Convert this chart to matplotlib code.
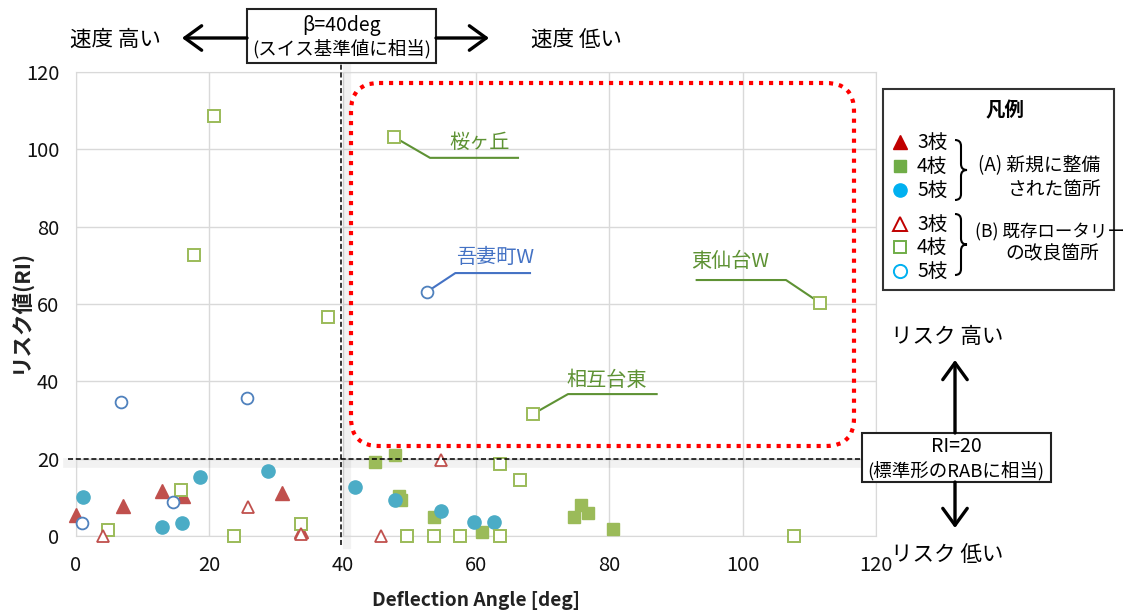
import matplotlib
matplotlib.use('Agg')
import matplotlib.pyplot as plt
from matplotlib.patches import FancyBboxPatch, Rectangle, PathPatch
from matplotlib.path import Path

plt.rcParams['font.family'] = ['Noto Sans CJK JP', 'DejaVu Sans']

# ---------------- data ----------------
# (A) newly built: 3-, 4-, 5-leg
tri_A_x = [0.0, 7.0, 12.9, 16.1, 30.9, 33.8]
tri_A_y = [5.5, 7.8, 11.6, 10.3, 11.0, 1.2]
sq_A_x = [44.8, 47.8, 48.5, 48.8, 53.7, 60.9, 74.7, 75.8, 76.8, 80.6]
sq_A_y = [19.1, 20.9, 10.4, 9.3, 4.8, 1.1, 4.8, 7.9, 6.0, 1.8]
ci_A_x = [1.0, 12.9, 15.9, 18.6, 28.8, 41.9, 47.8, 54.8, 59.7, 62.7]
ci_A_y = [10.0, 2.2, 3.3, 15.3, 16.7, 12.8, 9.4, 6.5, 3.5, 3.5]
# (B) improved existing rotaries: 3-, 4-, 5-leg
tri_B_x = [4.0, 25.8, 33.8, 45.8, 54.7]
tri_B_y = [0.0, 7.4, 0.4, 0.0, 19.6]
sq_B_x = [4.8, 15.8, 17.7, 20.7, 23.7, 33.7, 37.8, 47.7, 49.6, 53.7, 57.6,
          63.6, 63.6, 66.6, 68.5, 107.7, 111.6]
sq_B_y = [1.5, 11.8, 72.7, 108.6, 0.0, 3.2, 56.6, 103.2, 0.0, 0.0, 0.0,
          0.0, 18.5, 14.6, 31.5, 0.0, 60.3]
ci_B_x = [0.85, 6.7, 14.6, 25.6, 52.6]
ci_B_y = [3.3, 34.7, 8.9, 35.8, 63.1]

# labelled sites
site_names = ['桜ヶ丘', '吾妻町W', '東仙台W', '相互台東']
site_x = [47.7, 52.6, 111.6, 68.5]
site_y = [103.2, 63.1, 60.3, 31.5]

x_ticks = [0, 20, 40, 60, 80, 100, 120]
y_ticks = [0, 20, 40, 60, 80, 100, 120]
beta_threshold = 40
ri_threshold = 20

# ---------------- figure ----------------
W, H = 1123, 614
fig = plt.figure(figsize=(W / 100, H / 100), dpi=100)
ax = fig.add_axes([76 / W, (H - 536) / H, 800 / W, 464 / H])
ax.set_xlim(0, 120)
ax.set_ylim(0, 120)
ax.set_xticks(x_ticks)
ax.set_yticks(y_ticks)
ax.grid(True, color='#D9D9D9', lw=1.0)
ax.set_axisbelow(True)
for s in ax.spines.values():
    s.set_color('#D9D9D9')
ax.tick_params(length=0, labelsize=14.5, colors='#111111')
ax.tick_params(axis='x', pad=14)
ax.tick_params(axis='y', pad=12)

c_tri, c_sq, c_ci, c_ci_open = '#C0504D', '#9BBB59', '#4BACC6', '#4F81BD'
mk = dict(ls='none', clip_on=False)
ax.plot(sq_B_x, sq_B_y, 's', ms=8.5, mfc='white', mec=c_sq, mew=1.4, zorder=4, **mk)
ax.plot(tri_B_x, tri_B_y, '^', ms=9, mfc='white', mec=c_tri, mew=1.3, zorder=4, **mk)
ax.plot(ci_B_x, ci_B_y, 'o', ms=8.5, mfc='white', mec=c_ci_open, mew=1.3, zorder=4, **mk)
ax.plot(tri_A_x, tri_A_y, '^', ms=10, color=c_tri, zorder=3, **mk)
ax.plot(sq_A_x, sq_A_y, 's', ms=9, color=c_sq, zorder=3, **mk)
ax.plot(ci_A_x, ci_A_y, 'o', ms=9.5, color=c_ci, zorder=3, **mk)

# threshold lines (with soft shadow)
ax.plot([beta_threshold + 0.6] * 2, [-2.3, 121.8], color='k', alpha=0.05, lw=6, clip_on=False, zorder=2)
ax.plot([-1.2, 117.9], [ri_threshold - 1.0] * 2, color='k', alpha=0.05, lw=7, clip_on=False, zorder=2)
ax.plot([beta_threshold - 0.3] * 2, [-2.3, 122.3], color='k', lw=1.1, ls=(0, (3.3, 1.8)), clip_on=False, zorder=5)
ax.plot([-1.2, 117.9], [ri_threshold] * 2, color='k', lw=1.1, ls=(0, (3.3, 1.8)), clip_on=False, zorder=5)

# site callouts
green, blue = '#5E9234', '#4472C4'
callouts = [
    # (elbow, end, text position, colour)
    ((53.1, 97.8), (66.3, 97.8), (60.6, 101.9), green),
    ((56.9, 68.0), (68.1, 68.0), (62.9, 71.9), blue),
    ((106.5, 66.2), (93.1, 66.2), (98.1, 71.1), green),
    ((73.8, 36.7), (87.1, 36.7), (79.6, 40.3), green),
]
for name, px, py, (elb, end, tp, col) in zip(site_names, site_x, site_y, callouts):
    ax.plot([px, elb[0], end[0]], [py, elb[1], end[1]], color=col, lw=1.5, zorder=2.5)
    ax.text(tp[0], tp[1], name, color=col, fontsize=14.5, ha='center', va='center')

# ---------------- overlay (pixel coordinates) ----------------
ov = fig.add_axes([0, 0, 1, 1], zorder=10)
ov.set_xlim(0, W)
ov.set_ylim(H, 0)
ov.axis('off')
ov.patch.set_alpha(0)

# red dotted rounded region
ov.add_patch(FancyBboxPatch((351, 83), 503, 363, boxstyle='round,pad=0,rounding_size=28',
                            fill=False, ec='#FF0000', lw=3, ls=(0, (1, 1.4))))

# axis labels
ov.text(476, 600, 'Deflection Angle [deg]', fontsize=13.8, fontweight='bold',
        ha='center', va='center', color='#222222')
ov.text(20, 311, 'リスク値(RI)', fontsize=15.5, fontweight='bold', rotation=90,
        ha='center', va='center', color='#222222')

arrow_kw = dict(arrowstyle='->,head_length=0.55,head_width=0.4', lw=2.4, color='k',
                mutation_scale=22, shrinkA=0, shrinkB=0)

# top speed annotation
ov.add_patch(Rectangle((247, 9), 189, 54, fill=True, fc='white', ec='#222222', lw=1.5))
ov.text(341.5, 25, 'β=40deg', fontsize=14, ha='center', va='center')
ov.text(341.5, 49, '(スイス基準値に相当)', fontsize=13.3, ha='center', va='center')
ov.annotate('', xy=(182, 38), xytext=(247, 38), arrowprops=arrow_kw)
ov.annotate('', xy=(489, 38), xytext=(436, 38), arrowprops=arrow_kw)
ov.text(115, 40, '速度 高い', fontsize=15.5, ha='center', va='center')
ov.text(576, 40, '速度 低い', fontsize=15.5, ha='center', va='center')

# right risk annotation
ov.add_patch(Rectangle((862, 433), 189, 49, fill=True, fc='white', ec='#222222', lw=1.5))
ov.text(956, 447, 'RI=20', fontsize=14, ha='center', va='center')
ov.text(956, 471, '(標準形のRABに相当)', fontsize=13.3, ha='center', va='center')
ov.annotate('', xy=(955, 360), xytext=(955, 433), arrowprops=arrow_kw)
ov.annotate('', xy=(955, 528), xytext=(955, 482), arrowprops=arrow_kw)
ov.text(947, 337, 'リスク 高い', fontsize=15.5, ha='center', va='center')
ov.text(947, 555, 'リスク 低い', fontsize=15.5, ha='center', va='center')

# legend
ov.add_patch(Rectangle((883, 89), 231, 201, fill=True, fc='white', ec='#333333', lw=1.5))
ov.text(1005, 111, '凡例', fontsize=14, fontweight='bold', ha='center', va='center')
leg_rows = [142, 166, 190, 224, 247, 271]
leg_labels = ['3枝', '4枝', '5枝', '3枝', '4枝', '5枝']
lc_r, lc_g, lc_b = '#C00000', '#70AD47', '#00B0F0'
leg_styles = [
    dict(marker='^', ms=9.5, color=lc_r),
    dict(marker='s', ms=8.5, color=lc_g),
    dict(marker='o', ms=9.5, color=lc_b),
    dict(marker='^', ms=9.5, mfc='white', mec=lc_r, mew=1.4),
    dict(marker='s', ms=8.5, mfc='white', mec=lc_g, mew=1.4),
    dict(marker='o', ms=9.5, mfc='white', mec=lc_b, mew=1.4),
]
for yy, lab, st in zip(leg_rows, leg_labels, leg_styles):
    ov.plot([900], [yy], ls='none', **st)
    ov.text(917, yy, lab, fontsize=14, ha='left', va='center')


def brace(x0, ytop, ybot, w=12):
    ym = (ytop + ybot) / 2
    xm = x0 + w / 2
    r = 6
    verts = [(x0, ytop), (xm, ytop), (xm, ytop + r),
             (xm, ym - r),
             (xm, ym), (x0 + w, ym),
             (xm, ym), (xm, ym + r),
             (xm, ybot - r),
             (xm, ybot), (x0, ybot)]
    codes = [Path.MOVETO, Path.CURVE3, Path.CURVE3,
             Path.LINETO,
             Path.CURVE3, Path.CURVE3,
             Path.CURVE3, Path.CURVE3,
             Path.LINETO,
             Path.CURVE3, Path.CURVE3]
    ov.add_patch(PathPatch(Path(verts, codes), fill=False, lw=1.5, ec='k'))


brace(955, 140, 200)
brace(955, 214, 275)
ov.text(978, 166, '(A) 新規に整備', fontsize=13.5, ha='left', va='center')
ov.text(1054, 189, 'された箇所', fontsize=13.5, ha='center', va='center')
ov.text(975, 232, '(B) 既存ロータリー', fontsize=12.6, ha='left', va='center')
ov.text(1052, 254, 'の改良箇所', fontsize=13.5, ha='center', va='center')

fig.savefig('out.png', dpi=100)
